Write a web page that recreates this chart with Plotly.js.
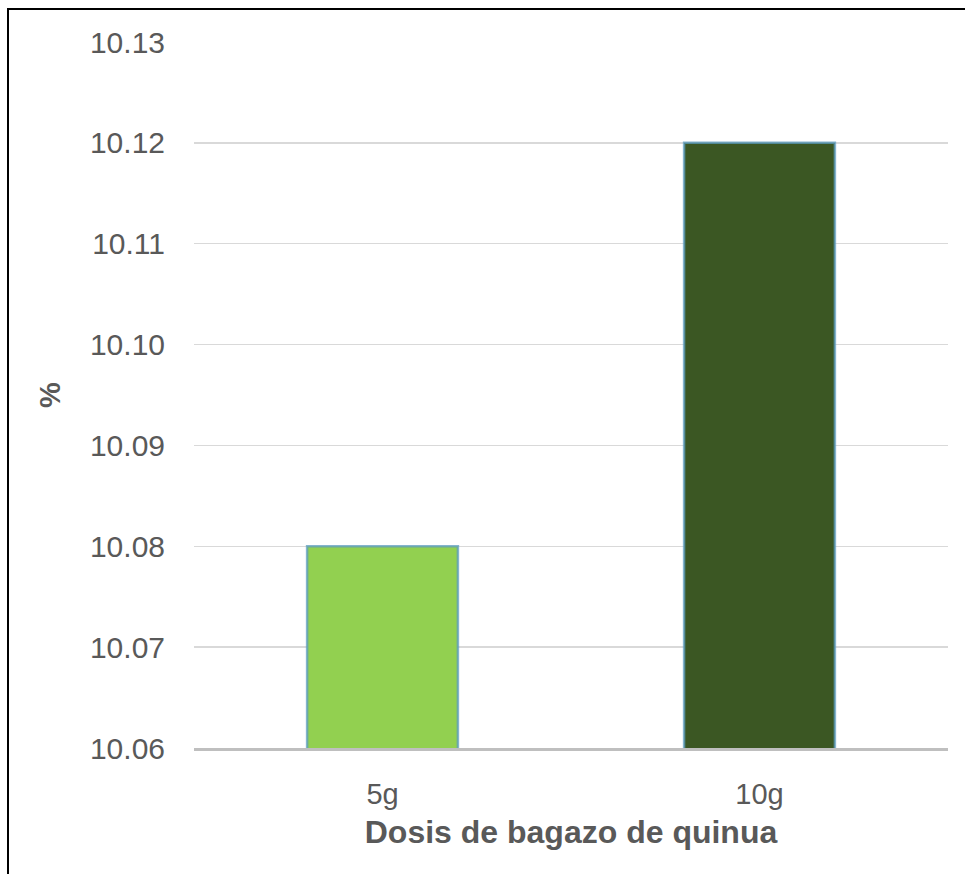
<!DOCTYPE html>
<html>
<head>
<meta charset="utf-8">
<script src="https://cdn.plot.ly/plotly-3.0.1.min.js"></script>
<style>
  html, body { margin: 0; padding: 0; background: #ffffff; }
  #chart { position: absolute; left: 0; top: 0; width: 965px; height: 874px; }
  #frame {
    position: absolute; left: 7px; top: 8px; width: 980px; height: 900px;
    border-top: 2.5px solid #000; border-left: 2.5px solid #000;
    pointer-events: none;
  }
</style>
</head>
<body>
<div id="chart"></div>
<div id="frame"></div>
<script>
// Dosis de bagazo de quinua vs. %
const categories = ['5g', '10g'];
const values = [10.08, 10.12];
const barColors = ['#92d050', '#3b5723'];
const tickValues = [10.06, 10.07, 10.08, 10.09, 10.10, 10.11, 10.12, 10.13];

const trace = {
  type: 'bar',
  x: categories,
  y: values,
  marker: {
    color: barColors,
    line: { color: 'rgba(91,155,190,0.75)', width: 2.5 }
  },
  hoverinfo: 'x+y'
};

const layout = {
  width: 965,
  height: 874,
  margin: { l: 194, r: 17, t: 42, b: 126 },
  paper_bgcolor: '#ffffff',
  plot_bgcolor: '#ffffff',
  showlegend: false,
  bargap: 0.6,
  font: { family: 'Liberation Sans, Arial, sans-serif', color: '#595959' },
  xaxis: {
    type: 'category',
    showline: true,
    linecolor: '#bfbfbf',
    linewidth: 3,
    showgrid: false,
    ticks: 'outside',
    ticklen: 18,
    tickcolor: 'rgba(0,0,0,0)',
    tickfont: { size: 29, color: '#595959' },
    title: {
      text: '<b>Dosis de bagazo de quinua</b>',
      font: { size: 32, color: '#595959' },
      standoff: 12
    }
  },
  yaxis: {
    range: [10.06, 10.13],
    tickvals: tickValues,
    tickformat: '.2f',
    showgrid: true,
    gridcolor: '#d9d9d9',
    gridwidth: 1.5,
    zeroline: false,
    showline: false,
    ticks: 'outside',
    ticklen: 22,
    tickcolor: 'rgba(0,0,0,0)',
    tickfont: { size: 30, color: '#595959' },
    title: {
      text: '<b>%</b>',
      font: { size: 29, color: '#595959' },
      standoff: 20
    }
  }
};

Plotly.newPlot('chart', [trace], layout, { displayModeBar: false, staticPlot: true });
</script>
</body>
</html>
